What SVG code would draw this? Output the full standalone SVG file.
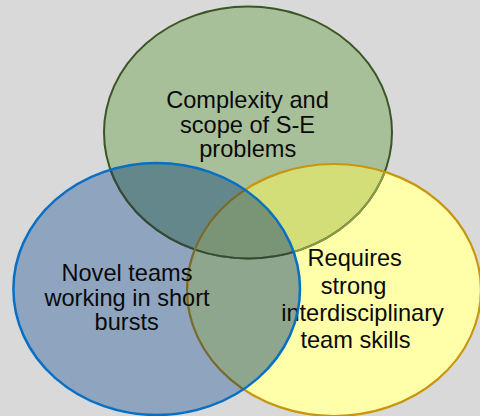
<svg xmlns="http://www.w3.org/2000/svg" width="480" height="416" viewBox="0 0 480 416">
  <defs>
    <ellipse id="shapeG" cx="248" cy="132.5" rx="144" ry="126"/>
    <ellipse id="shapeY" cx="334" cy="290" rx="147" ry="126"/>
    <ellipse id="shapeB" cx="156.7" cy="289" rx="143.3" ry="126"/>
    <clipPath id="clipY"><use href="#shapeY"/></clipPath>
    <clipPath id="clipB"><use href="#shapeB"/></clipPath>
    <style>
      .lbl { font-family: "Liberation Sans", Arial, Helvetica, sans-serif; font-size: 23.6px; fill: #0a0a0a; text-anchor: middle; }
      .nofill { fill: none; }
    </style>
  </defs>

  <rect x="0" y="0" width="480" height="416" fill="#d9d9d9"/>

  <!-- region fills -->
  <g id="regions">
    <use href="#shapeG" fill="#a8c09a"/>
    <use href="#shapeY" fill="#ffffa9"/>
    <use href="#shapeG" fill="#d3de78" clip-path="url(#clipY)"/>
    <use href="#shapeB" fill="#8fa5bf"/>
    <use href="#shapeG" fill="#63878a" clip-path="url(#clipB)"/>
    <use href="#shapeY" fill="#8fa68e" clip-path="url(#clipB)"/>
    <g clip-path="url(#clipB)">
      <use href="#shapeG" fill="#7a9575" clip-path="url(#clipY)"/>
    </g>
  </g>

  <g id="node-complexity">
    <use href="#shapeG" class="nofill" stroke="#3b5526" stroke-width="2"/>
    <use href="#shapeG" class="nofill" stroke="#8a9b45" stroke-width="2" clip-path="url(#clipY)"/>
    <use href="#shapeG" class="nofill" stroke="#34493a" stroke-width="2" clip-path="url(#clipB)"/>
    <text class="lbl" x="247.5" y="107.7">Complexity and</text>
    <text class="lbl" x="247.5" y="132.7">scope of S-E</text>
    <text class="lbl" x="247.7" y="156.7">problems</text>
  </g>

  <g id="node-requires">
    <use href="#shapeY" class="nofill" stroke="#c8960c" stroke-width="2.2"/>
    <use href="#shapeY" class="nofill" stroke="#6f6b3a" stroke-width="2.2" clip-path="url(#clipB)"/>
    <text class="lbl" x="354.7" y="265.7">Requires</text>
    <text class="lbl" x="353.5" y="293.7">strong</text>
    <text class="lbl" x="362.5" y="321">interdisciplinary</text>
    <text class="lbl" x="355.5" y="348">team skills</text>
  </g>

  <g id="node-novel">
    <use href="#shapeB" class="nofill" stroke="#0770c4" stroke-width="2.5"/>
    <text class="lbl" x="127" y="280.5">Novel teams</text>
    <text class="lbl" x="127" y="305.5">working in short</text>
    <text class="lbl" x="126.7" y="330">bursts</text>
  </g>

  <g id="connectors"/>
</svg>
